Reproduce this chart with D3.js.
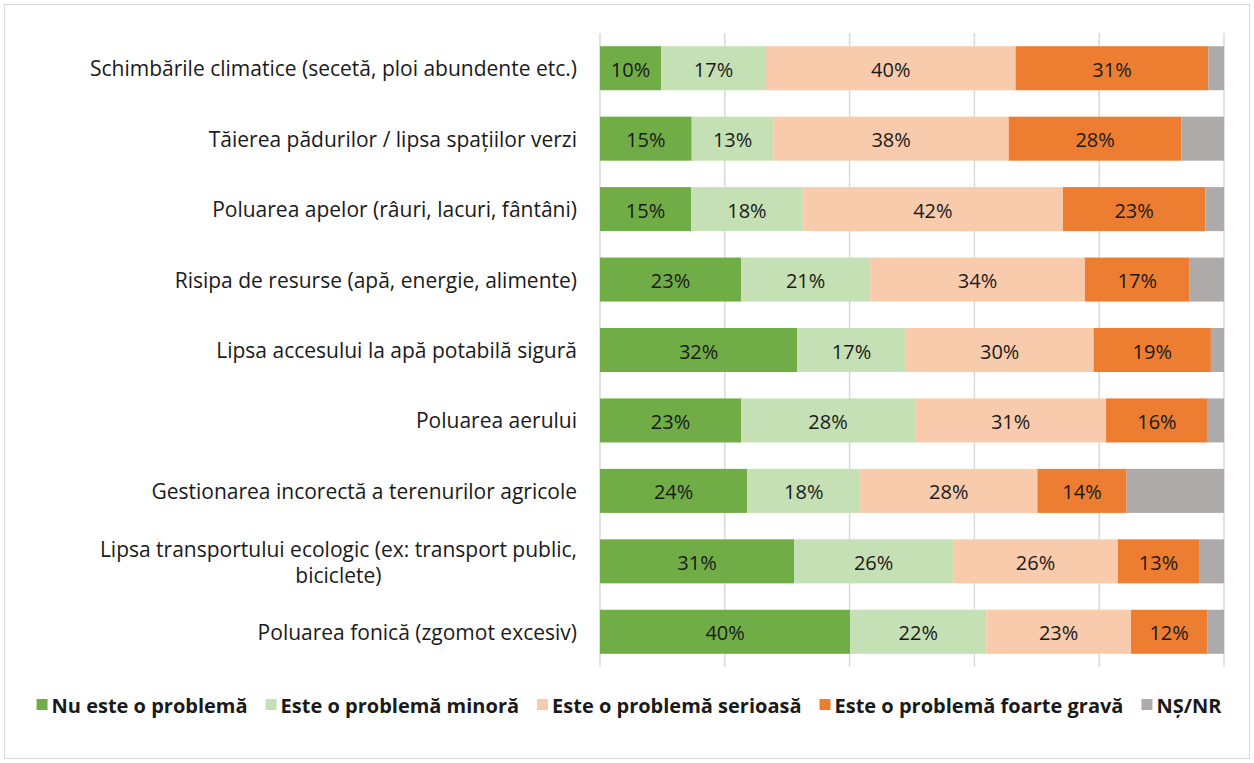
<!DOCTYPE html>
<html>
<head>
<meta charset="utf-8">
<style>
  body { margin: 0; background: #fff; }
  text { font-family: "Open Sans", sans-serif; fill: #1a1a1a; }
  .cat text { font-size: 21px; }
  .val { font-size: 20px; text-anchor: middle; dominant-baseline: central; }
  .legend text { font-size: 20px; font-weight: bold; }
  .grid line { stroke: #d9d9d9; stroke-width: 1.5; }
</style>
</head>
<body>
<svg class="chart"></svg>
<script src="https://cdn.jsdelivr.net/npm/d3@7/dist/d3.min.js"></script>
<script>
  var width = 1254, height = 763;

  var categories = [
    "Schimbările climatice (secetă, ploi abundente etc.)",
    "Tăierea pădurilor / lipsa spațiilor verzi",
    "Poluarea apelor (râuri, lacuri, fântâni)",
    "Risipa de resurse (apă, energie, alimente)",
    "Lipsa accesului la apă potabilă sigură ",
    "Poluarea aerului",
    "Gestionarea incorectă a terenurilor agricole",
    "Lipsa transportului ecologic (ex: transport public, biciclete)",
    "Poluarea fonică (zgomot excesiv)"
  ];

  var seriesNames = ["Nu este o problemă", "Este o problemă minoră", "Este o problemă serioasă",
                     "Este o problemă foarte gravă", "NȘ/NR"];
  var colors = ["#70ad47", "#c5e0b4", "#f8cbad", "#ed7d31", "#aeaaaa"];

  // one array per series, same order as categories
  var nuProblema = [9.8, 14.7, 14.6, 22.6, 31.6, 22.6, 23.6, 31.1, 40.1];
  var minora     = [16.8, 13.1, 17.9, 20.7, 17.4, 27.9, 18.1, 25.5, 21.8];
  var serioasa   = [40.0, 37.7, 41.7, 34.4, 30.1, 30.6, 28.4, 26.4, 23.2];
  var grava      = [30.9, 27.7, 22.8, 16.8, 18.8, 16.3, 14.3, 13.0, 12.2];
  var nsnr       = [2.5, 6.8, 3.0, 5.5, 2.1, 2.6, 15.6, 4.0, 2.7];

  var xTicks = [0, 20, 40, 60, 80, 100];

  var seriesValues = [nuProblema, minora, serioasa, grava, nsnr];
  var rows = categories.map(function(c, i) {
    var r = { cat: c };
    seriesNames.forEach(function(s, k) { r[s] = seriesValues[k][i]; });
    return r;
  });
  var stacked = d3.stack().keys(seriesNames)(rows);

  var margin = { left: 600, right: 30, top: 33, bottom: 96 };

  var svg = d3.select(".chart").attr("width", width).attr("height", height);

  svg.append("rect")
    .attr("x", 4.5).attr("y", 4.5)
    .attr("width", width - 9).attr("height", height - 9)
    .attr("fill", "#fff").attr("stroke", "#d9d9d9");

  var x = d3.scaleLinear().domain([0, 100]).range([margin.left, width - margin.right]);
  var y = d3.scaleBand().domain(categories)
    .range([margin.top, height - margin.bottom]).paddingInner(0.375).paddingOuter(0.1875);

  // gridlines
  svg.append("g").attr("class", "grid")
    .selectAll("line").data(xTicks).enter().append("line")
    .attr("x1", function(d) { return x(d); }).attr("x2", function(d) { return x(d); })
    .attr("y1", margin.top).attr("y2", height - margin.bottom);

  // bars
  var layers = svg.selectAll(".layer").data(stacked).enter().append("g")
    .attr("class", "layer")
    .attr("fill", function(d, i) { return colors[i]; });

  layers.selectAll("rect").data(function(d) { return d; }).enter().append("rect")
    .attr("x", function(d) { return x(d[0]); })
    .attr("width", function(d) { return x(d[1]) - x(d[0]); })
    .attr("y", function(d) { return y(d.data.cat); })
    .attr("height", y.bandwidth());

  // value labels (not for NȘ/NR)
  layers.filter(function(d, i) { return i < 4; })
    .selectAll(".val").data(function(d) { return d; }).enter().append("text")
    .attr("class", "val")
    .attr("x", function(d) { return (x(d[0]) + x(d[1])) / 2; })
    .attr("y", function(d) { return y(d.data.cat) + y.bandwidth() / 2 + 1; })
    .text(function(d) { return Math.round(d[1] - d[0]) + "%"; });

  // category labels
  var labelX = 577;
  var cat = svg.append("g").attr("class", "cat");
  categories.forEach(function(c) {
    var cy = y(c) + y.bandwidth() / 2;
    var t = cat.append("text").attr("text-anchor", "end").attr("dominant-baseline", "central");
    if (c.indexOf("biciclete") >= 0) {
      var first = c.replace(" biciclete)", "");
      t.attr("x", labelX).attr("y", cy - 12).text(first);
      var w = t.node().getComputedTextLength();
      cat.append("text").attr("text-anchor", "middle").attr("dominant-baseline", "central")
        .attr("x", labelX - w / 2).attr("y", cy + 14).text("biciclete)");
    } else {
      t.attr("x", labelX).attr("y", cy).text(c);
    }
  });

  // legend
  var legend = svg.append("g").attr("class", "legend");
  var lx = 0, gap = 18;
  var items = legend.selectAll("g").data(seriesNames).enter().append("g");
  items.append("rect").attr("width", 11).attr("height", 11).attr("y", -6)
    .attr("fill", function(d, i) { return colors[i]; });
  items.append("text").attr("x", 15).attr("dominant-baseline", "central").text(function(d) { return d; });
  items.each(function() {
    var g = d3.select(this);
    g.attr("transform", "translate(" + lx + ",0)");
    lx += 15 + g.select("text").node().getComputedTextLength() + gap;
  });
  var totalW = lx - gap;
  legend.attr("transform", "translate(" + (36 + (1186 - totalW) / 2) + ",705)");
</script>
</body>
</html>
